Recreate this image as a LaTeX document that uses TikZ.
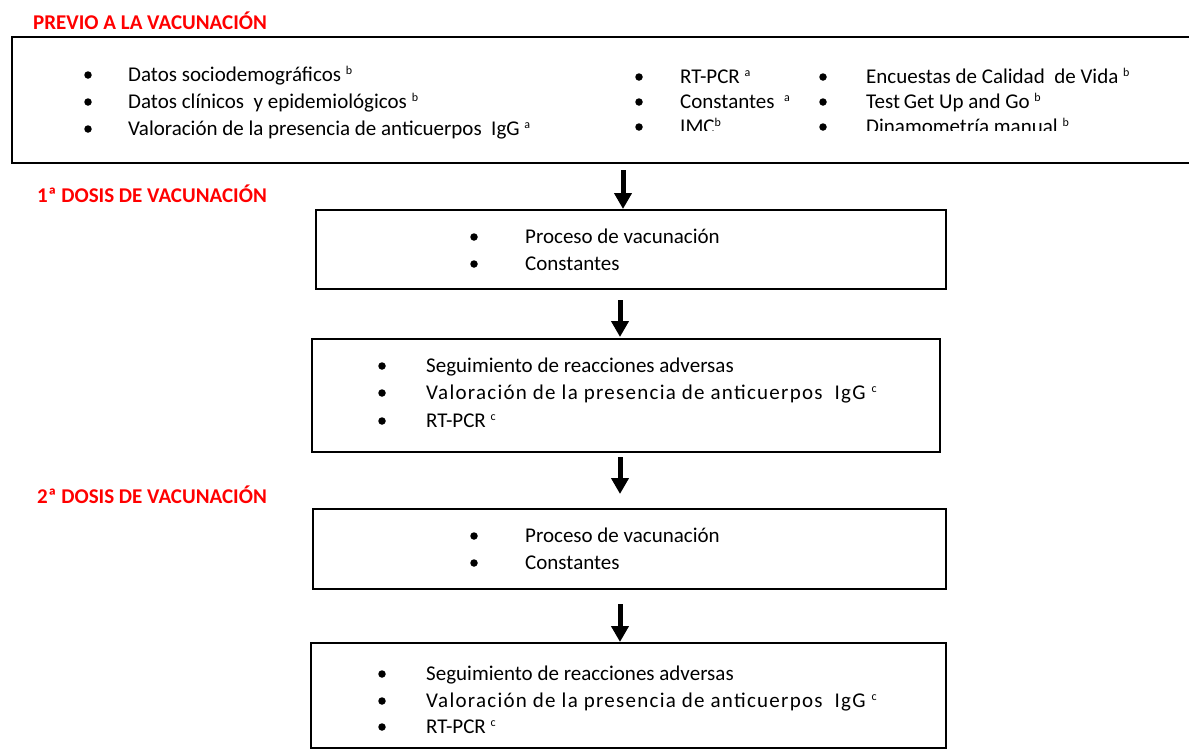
\documentclass[tikz,border=0pt]{standalone}
\usepackage{fontspec}
\setmainfont{Carlito}
\newfontfamily\widefont{Carlito}[LetterSpace=6]
\usetikzlibrary{arrows.meta}
\newcommand\supr[1]{\raisebox{7pt}{\fontsize{12}{12}\selectfont #1}}
\begin{document}
\begin{tikzpicture}[x=1pt,y=-1pt,
  box/.style={draw, line width=2.4pt, anchor=north west, inner sep=0pt},
  hdr/.style={anchor=base west, text=red, font=\fontsize{21}{24}\selectfont\bfseries, inner sep=0pt},
  txt/.style={anchor=base west, font=\fontsize{21}{25}\selectfont, inner sep=0pt},
  bul/.style={circle, fill, inner sep=0pt, minimum size=7.5pt},
  arr/.style={line width=5pt, -{Triangle[width=17pt,length=16pt]}}]
\clip (0,0) rectangle (1189,748);
% headers
\node[hdr] (h1) at (33,29) {PREVIO A LA VACUNACIÓN};
\node[hdr] (h2) at (37,202) {1ª DOSIS DE VACUNACIÓN};
\node[hdr] (h3) at (37,503) {2ª DOSIS DE VACUNACIÓN};
% boxes
\node[box, minimum width=1200pt, minimum height=126pt] (b1) at (11,36) {};
\node[box, minimum width=630pt, minimum height=79pt] (b2) at (315,209) {};
\node[box, minimum width=628pt, minimum height=113pt] (b3) at (311,338) {};
\node[box, minimum width=633pt, minimum height=80pt] (b4) at (312,508) {};
\node[box, minimum width=635pt, minimum height=105pt] (b5) at (310,642) {};
% top box column 1
\node[bul] (p1) at (88,75) {};
\node[bul] (p2) at (88,102) {};
\node[bul] (p3) at (88,129) {};
\node[txt] (t1) at (128,81) {Datos sociodemográficos \supr{b}};
\node[txt] (t2) at (128,108) {Datos clínicos \ y epidemiológicos \supr{b}};
\node[txt] (t3) at (128,135) {Valoración de la presencia de anticuerpos \ IgG \supr{a}};
% top box columns 2 and 3
\begin{scope}
\clip (600,40) rectangle (1189,130);
\node[bul] (q1) at (639,77) {};
\node[bul] (q2) at (639,102) {};
\node[bul] (q3) at (639,127) {};
\node[txt] (u1) at (680,83) {RT-PCR \supr{a}};
\node[txt] (u2) at (680,108) {Constantes \ \supr{a}};
\node[txt] (u3) at (680,133) {IMC\supr{b}};
\node[bul] (r1) at (823,77) {};
\node[bul] (r2) at (823,102) {};
\node[bul] (r3) at (823,127) {};
\node[txt] (v1) at (866,83) {Encuestas de Calidad \ de Vida \supr{b}};
\node[txt] (v2) at (866,108) {Test\kern-1pt\ Get Up and Go \supr{b}};
\node[txt] (v3) at (866,133) {Dinamometría manual \supr{b}};
\end{scope}
% box 2
\node[bul] (c1) at (474,237) {};
\node[bul] (c2) at (474,264) {};
\node[txt] (d1) at (525,243) {Proceso de vacunación};
\node[txt] (d2) at (525,270) {Constantes};
% box 4
\node[bul] (g1) at (474,536) {};
\node[bul] (g2) at (474,563) {};
\node[txt] (k1) at (525,542) {Proceso de vacunación};
\node[txt] (k2) at (525,569) {Constantes};
% box 3
\node[bul] (e1) at (382,366) {};
\node[bul] (e2) at (382,393) {};
\node[bul] (e3) at (382,421) {};
\node[txt] (f1) at (426,372) {Seguimiento de reacciones adversas};
\node[txt] (f2) at (426,399) {\widefont Valoración de la presencia de anticuerpos \ IgG \supr{c}};
\node[txt] (f3) at (426,427) {RT-PCR \supr{c}};
% box 5
\node[bul] (m1) at (382,674) {};
\node[bul] (m2) at (382,701) {};
\node[bul] (m3) at (382,727) {};
\node[txt] (n1) at (426,680) {Seguimiento de reacciones adversas};
\node[txt] (n2) at (426,707) {\widefont Valoración de la presencia de anticuerpos \ IgG \supr{c}};
\node[txt] (n3) at (426,733) {RT-PCR \supr{c}};
% arrows
\coordinate (ax1) at (623,0);
\coordinate (ax) at (620,0);
\draw[arr, shorten <=6pt, shorten >=0pt] (b1.south -| ax1) -- (b2.north -| ax1);
\draw[arr, shorten <=10pt, shorten >=1pt] (b2.south -| ax) -- (b3.north -| ax);
\draw[arr, shorten <=4pt, shorten >=14pt] (b3.south -| ax) -- (b4.north -| ax);
\draw[arr, shorten <=14pt, shorten >=0pt] (b4.south -| ax) -- (b5.north -| ax);
\end{tikzpicture}
\end{document}
